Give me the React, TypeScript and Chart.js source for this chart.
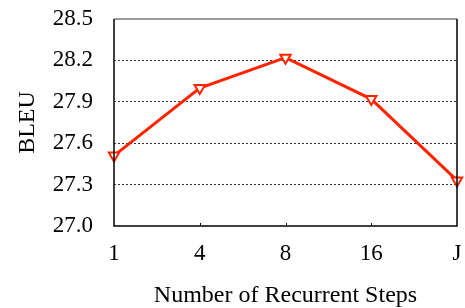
import React, { useEffect, useRef } from "react";
import { Chart, registerables } from "chart.js";

Chart.register(...registerables);

const categories = ["1", "4", "8", "16", "J"];
const bleu = [27.51, 28.0, 28.22, 27.92, 27.33];
const yTicks = [27.0, 27.3, 27.6, 27.9, 28.2, 28.5];
const xTitle = "Number of Recurrent Steps";
const yTitle = "BLEU";

const FONT = "'Liberation Serif', 'Times New Roman', serif";

const framePlugin = {
  id: "frame",
  afterDatasetsDraw(chart: any) {
    const { ctx, chartArea: a } = chart;
    const xs = chart.scales.x;
    ctx.save();
    ctx.strokeStyle = "#000";
    ctx.lineWidth = 1;
    for (let i = 1; i < categories.length - 1; i++) {
      const px = Math.round(xs.getPixelForTick(i)) + 0.5;
      ctx.beginPath();
      ctx.moveTo(px, a.bottom);
      ctx.lineTo(px, a.bottom - 3);
      ctx.stroke();
    }
    ctx.lineWidth = 1.5;
    ctx.strokeStyle = "#777";
    ctx.beginPath();
    ctx.moveTo(a.left, a.top);
    ctx.lineTo(a.right, a.top);
    ctx.stroke();
    ctx.strokeStyle = "#000";
    ctx.beginPath();
    ctx.moveTo(a.right, a.top);
    ctx.lineTo(a.right, a.bottom);
    ctx.lineTo(a.left, a.bottom);
    ctx.lineTo(a.left, a.top);
    ctx.stroke();
    ctx.restore();
  },
};

export default function App() {
  const ref = useRef<HTMLCanvasElement | null>(null);
  useEffect(() => {
    document.body.style.margin = "0";
    const chart = new Chart(ref.current as HTMLCanvasElement, {
      type: "line",
      data: {
        labels: categories,
        datasets: [
          {
            data: bleu,
            borderColor: "#ff2400",
            backgroundColor: "#ffffff",
            borderWidth: 3,
            pointStyle: "triangle",
            rotation: 180,
            pointRadius: 6,
            pointBorderWidth: 2,
            pointBorderColor: "#ff2400",
            pointBackgroundColor: "#ffffff",
            clip: false as any,
          },
        ],
      },
      options: {
        animation: false,
        responsive: false,
        maintainAspectRatio: false,
        layout: { padding: { top: 19, right: 6, left: 0, bottom: 0 } },
        plugins: { legend: { display: false }, tooltip: { enabled: false }, title: { display: false } },
        scales: {
          x: {
            type: "category",
            offset: false,
            grid: { display: true, drawOnChartArea: false, drawTicks: false },
            border: { display: false },
            ticks: { color: "#000", font: { family: FONT, size: 23 }, padding: 14 },
            title: {
              display: true,
              text: xTitle,
              color: "#000",
              font: { family: FONT, size: 24, lineHeight: 1 },
              padding: { top: 0, bottom: 0 },
            },
            afterFit(scale: any) {
              scale.height = 82;
              scale.paddingLeft = 0;
              scale.paddingRight = 0;
            },
          },
          y: {
            min: 27.0,
            max: 28.5,
            afterBuildTicks(scale: any) {
              scale.ticks = yTicks.map((v) => ({ value: v }));
            },
            grid: {
              drawTicks: false,
              color: (c: any) =>
                c.tick && (c.tick.value === 27.0 || c.tick.value === 28.5) ? "rgba(0,0,0,0)" : "#333",
              lineWidth: 1,
            },
            border: { display: false, dash: [2, 2] },
            ticks: {
              color: "#000",
              font: { family: FONT, size: 23 },
              padding: 21,
              callback: (v: any) => Number(v).toFixed(1),
            },
            title: {
              display: true,
              text: yTitle,
              color: "#000",
              font: { family: FONT, size: 24 },
              padding: { top: 13, bottom: 0 },
            },
            afterFit(scale: any) {
              scale.width = 114;
              scale.paddingTop = 0;
              scale.paddingBottom = 0;
            },
          },
        },
      },
      plugins: [framePlugin],
    });
    return () => chart.destroy();
  }, []);
  return (
    <div style={{ position: "absolute", left: 0, top: 0, width: 465, height: 308 }}>
      <canvas ref={ref} width={465} height={308} style={{ width: 465, height: 308 }} />
    </div>
  );
}
